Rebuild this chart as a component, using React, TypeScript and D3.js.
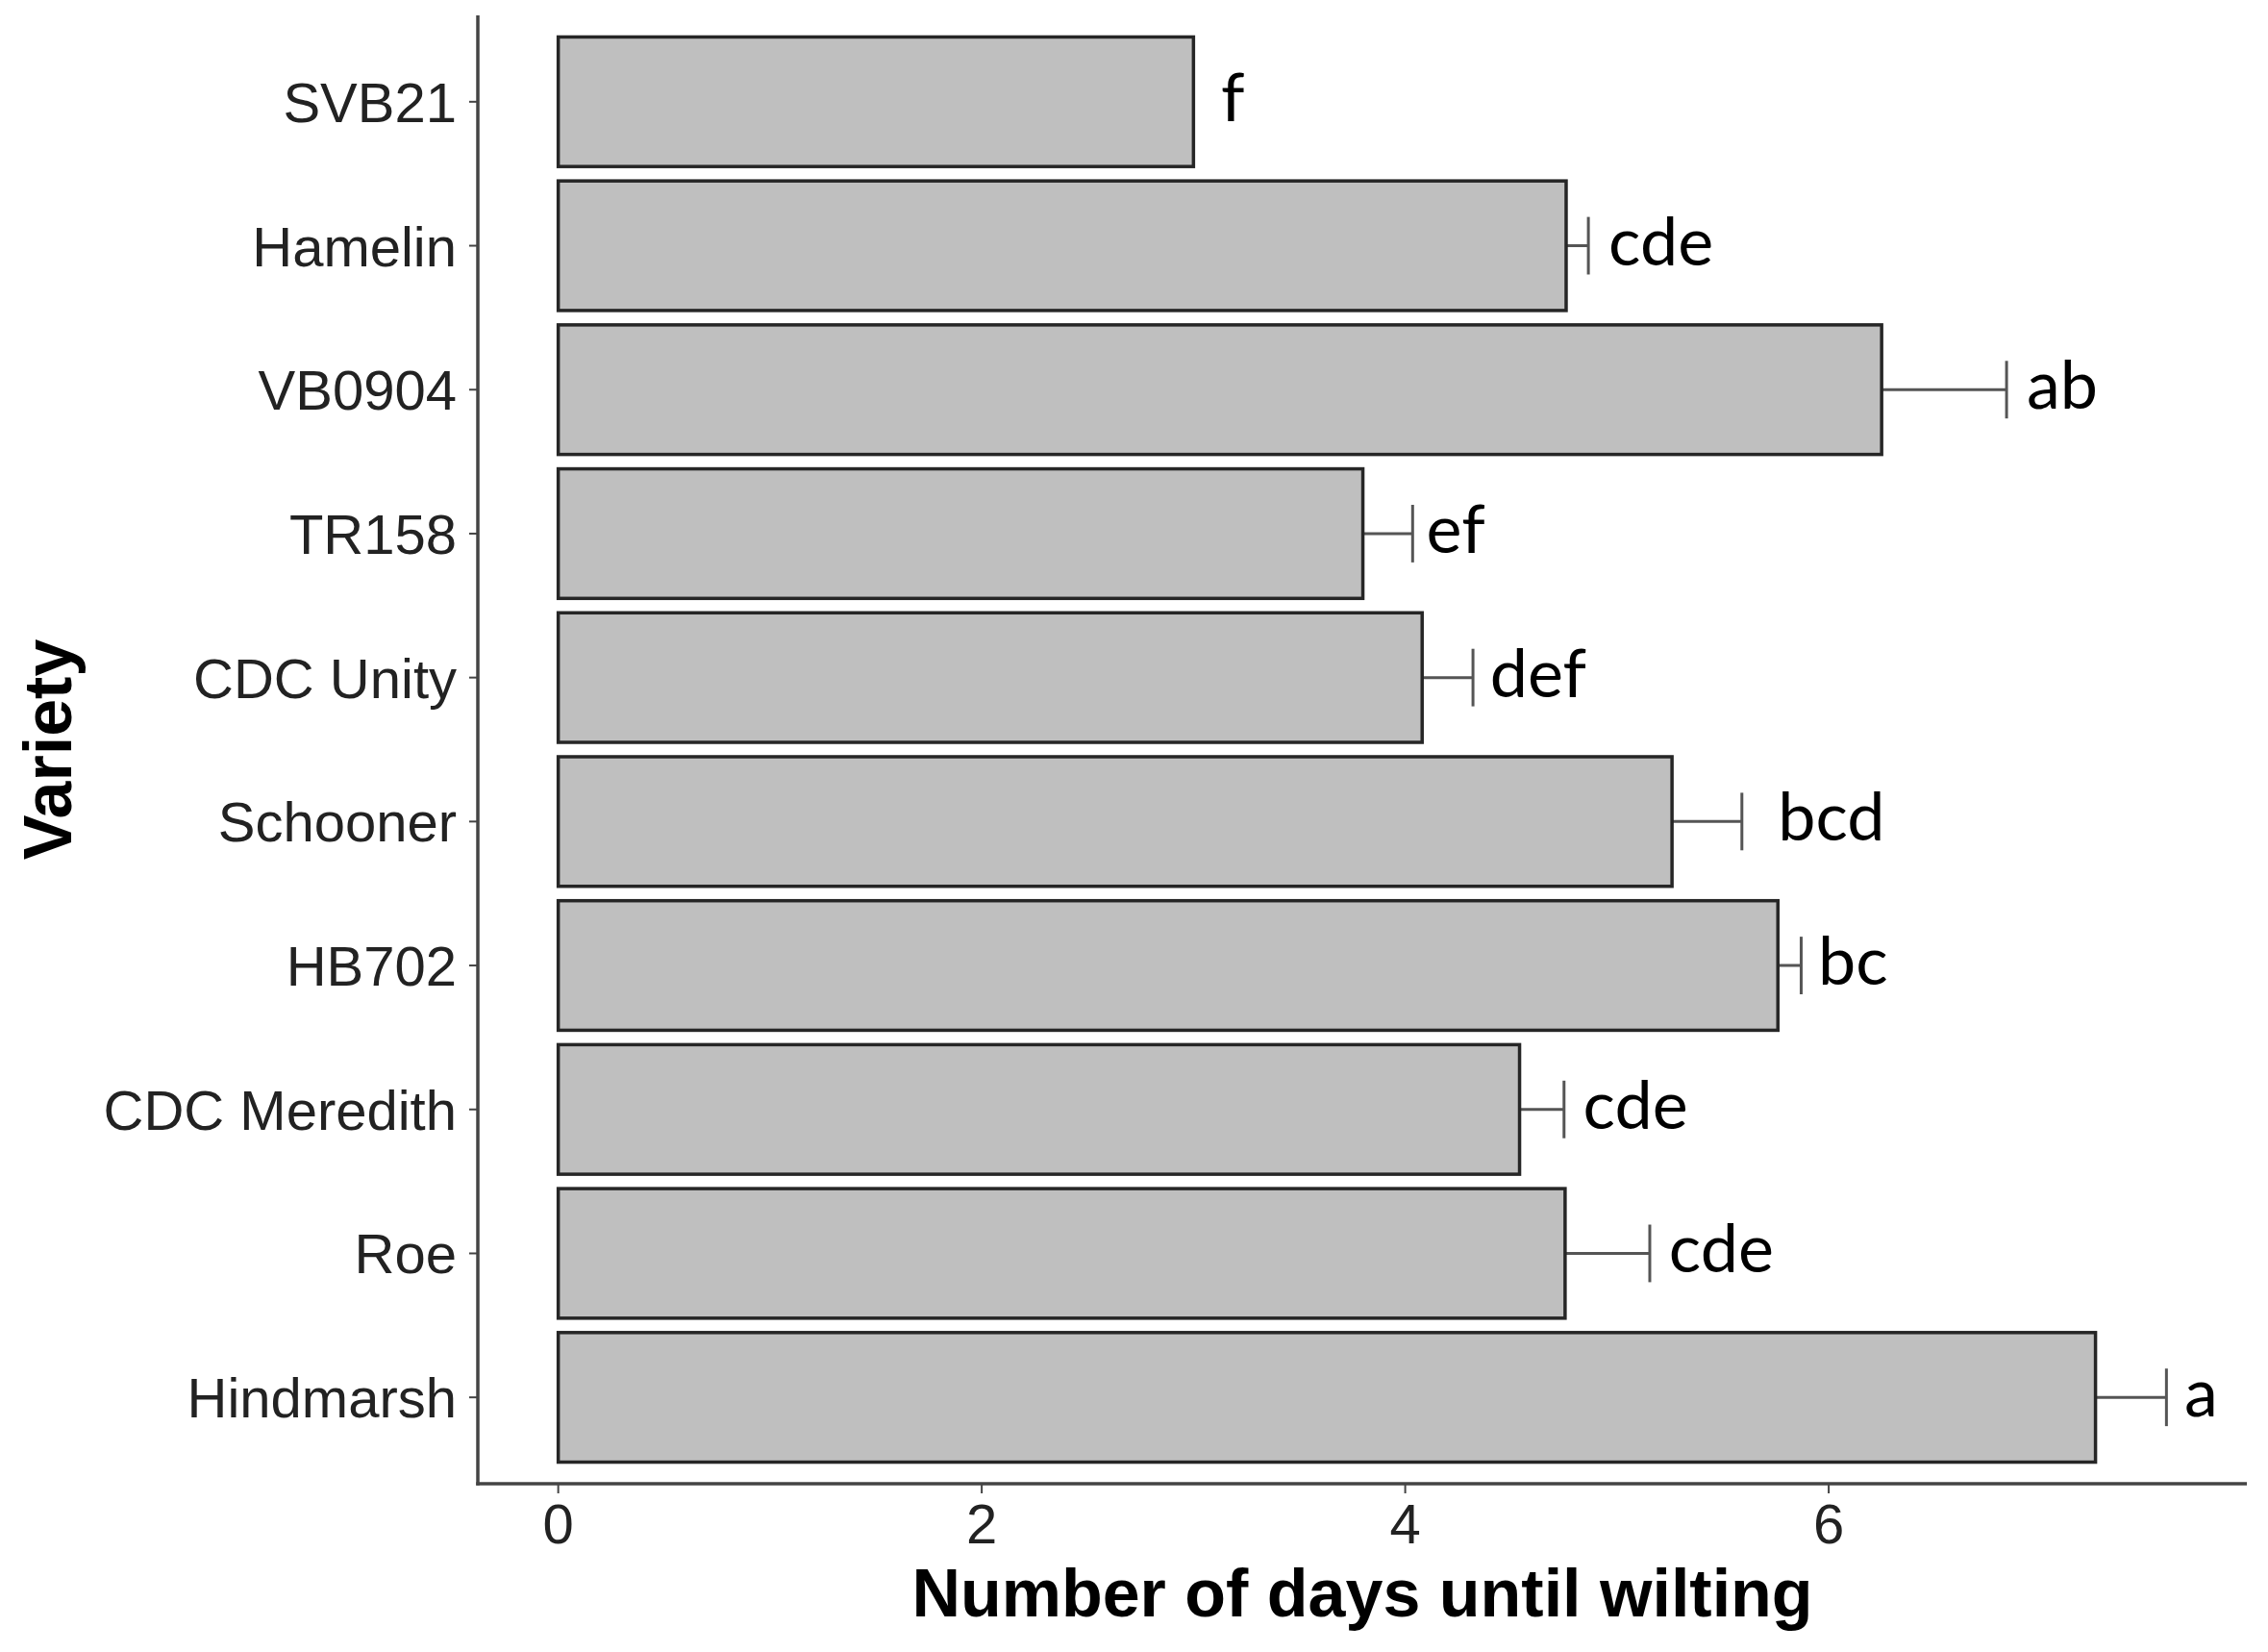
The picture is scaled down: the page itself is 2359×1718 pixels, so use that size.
import React from "react";
import * as d3 from "d3";

const varieties = ["SVB21", "Hamelin", "VB0904", "TR158", "CDC Unity", "Schooner", "HB702", "CDC Meredith", "Roe", "Hindmarsh"];
const meanDays = [3.0, 4.76, 6.25, 3.8, 4.08, 5.26, 5.76, 4.54, 4.755, 7.26];
const seDays = [0, 0.105, 0.59, 0.235, 0.24, 0.33, 0.11, 0.21, 0.4, 0.335];
const groupLetters = ["f", "cde", "ab", "ef", "def", "bcd", "bc", "cde", "cde", "a"];
const letterX = [3.13, 4.96, 6.935, 4.1, 4.4, 5.76, 5.95, 4.84, 5.245, 7.68];
const xTicks = [0, 2, 4, 6];

const W = 2359;
const H = 1718;
const panel = { left: 497, right: 2337, top: 16, bottom: 1543 };

export default function App() {
  const maxUpper = d3.max(meanDays.map((m, i) => m + seDays[i])) as number;
  const pad = maxUpper * 0.05;
  const x = d3.scaleLinear().domain([-pad, maxUpper + pad]).range([panel.left, panel.right]);
  const y = d3.scalePoint<string>().domain(varieties).range([panel.top, panel.bottom]).padding(0.6);
  const step = y.step();
  const barH = step * 0.9;
  const capH = step * 0.4;

  return (
    <svg width={W} height={H} style={{ position: "absolute", left: 0, top: 0, background: "#fff" }}>
      <rect x={0} y={0} width={W} height={H} fill="#fff" />
      {/* error bars (behind bars) */}
      {varieties.map((v, i) => {
        const cy = y(v) as number;
        const lo = x(meanDays[i] - seDays[i]);
        const hi = x(meanDays[i] + seDays[i]);
        return (
          <g key={"e" + v} stroke="#555" strokeWidth={3} fill="none">
            <line x1={lo} x2={hi} y1={cy} y2={cy} />
            <line x1={lo} x2={lo} y1={cy - capH / 2} y2={cy + capH / 2} />
            <line x1={hi} x2={hi} y1={cy - capH / 2} y2={cy + capH / 2} />
          </g>
        );
      })}
      {/* bars */}
      {varieties.map((v, i) => {
        const cy = y(v) as number;
        return (
          <rect
            key={"b" + v}
            x={x(0)}
            y={cy - barH / 2}
            width={x(meanDays[i]) - x(0)}
            height={barH}
            fill="#bfbfbf"
            stroke="#262626"
            strokeWidth={3.5}
          />
        );
      })}
      {/* letters */}
      {varieties.map((v, i) => (
        <text
          key={"l" + v}
          x={x(letterX[i])}
          y={(y(v) as number) + 20}
          fontFamily="Lato, 'Open Sans', sans-serif"
          fontSize={70}
          fill="#000"
        >
          {groupLetters[i]}
        </text>
      ))}
      {/* axes */}
      <line x1={panel.left} x2={panel.left} y1={panel.top} y2={panel.bottom + 1.75} stroke="#444" strokeWidth={3.5} />
      <line x1={panel.left - 1.75} x2={panel.right} y1={panel.bottom} y2={panel.bottom} stroke="#444" strokeWidth={3.5} />
      {varieties.map((v) => {
        const cy = y(v) as number;
        return (
          <g key={"yt" + v}>
            <line x1={panel.left - 9} x2={panel.left} y1={cy} y2={cy} stroke="#444" strokeWidth={2} />
            <text
              x={panel.left - 22}
              y={cy + 21}
              textAnchor="end"
              fontFamily="'Liberation Sans', Arial, sans-serif"
              fontSize={58}
              fill="#222"
            >
              {v}
            </text>
          </g>
        );
      })}
      {xTicks.map((t) => (
        <g key={"xt" + t}>
          <line x1={x(t)} x2={x(t)} y1={panel.bottom} y2={panel.bottom + 10} stroke="#444" strokeWidth={2} />
          <text
            x={x(t)}
            y={1605}
            textAnchor="middle"
            fontFamily="'Liberation Sans', Arial, sans-serif"
            fontSize={58}
            fill="#222"
          >
            {t}
          </text>
        </g>
      ))}
      <text
        x={(panel.left + panel.right) / 2}
        y={1681}
        textAnchor="middle"
        fontFamily="'Liberation Sans', Arial, sans-serif"
        fontWeight="bold"
        fontSize={70}
        fill="#000"
      >
        Number of days until wilting
      </text>
      <text
        transform={`translate(74, ${(panel.top + panel.bottom) / 2}) rotate(-90)`}
        textAnchor="middle"
        fontFamily="'Liberation Sans', Arial, sans-serif"
        fontWeight="bold"
        fontSize={70}
        fill="#000"
      >
        Variety
      </text>
    </svg>
  );
}
